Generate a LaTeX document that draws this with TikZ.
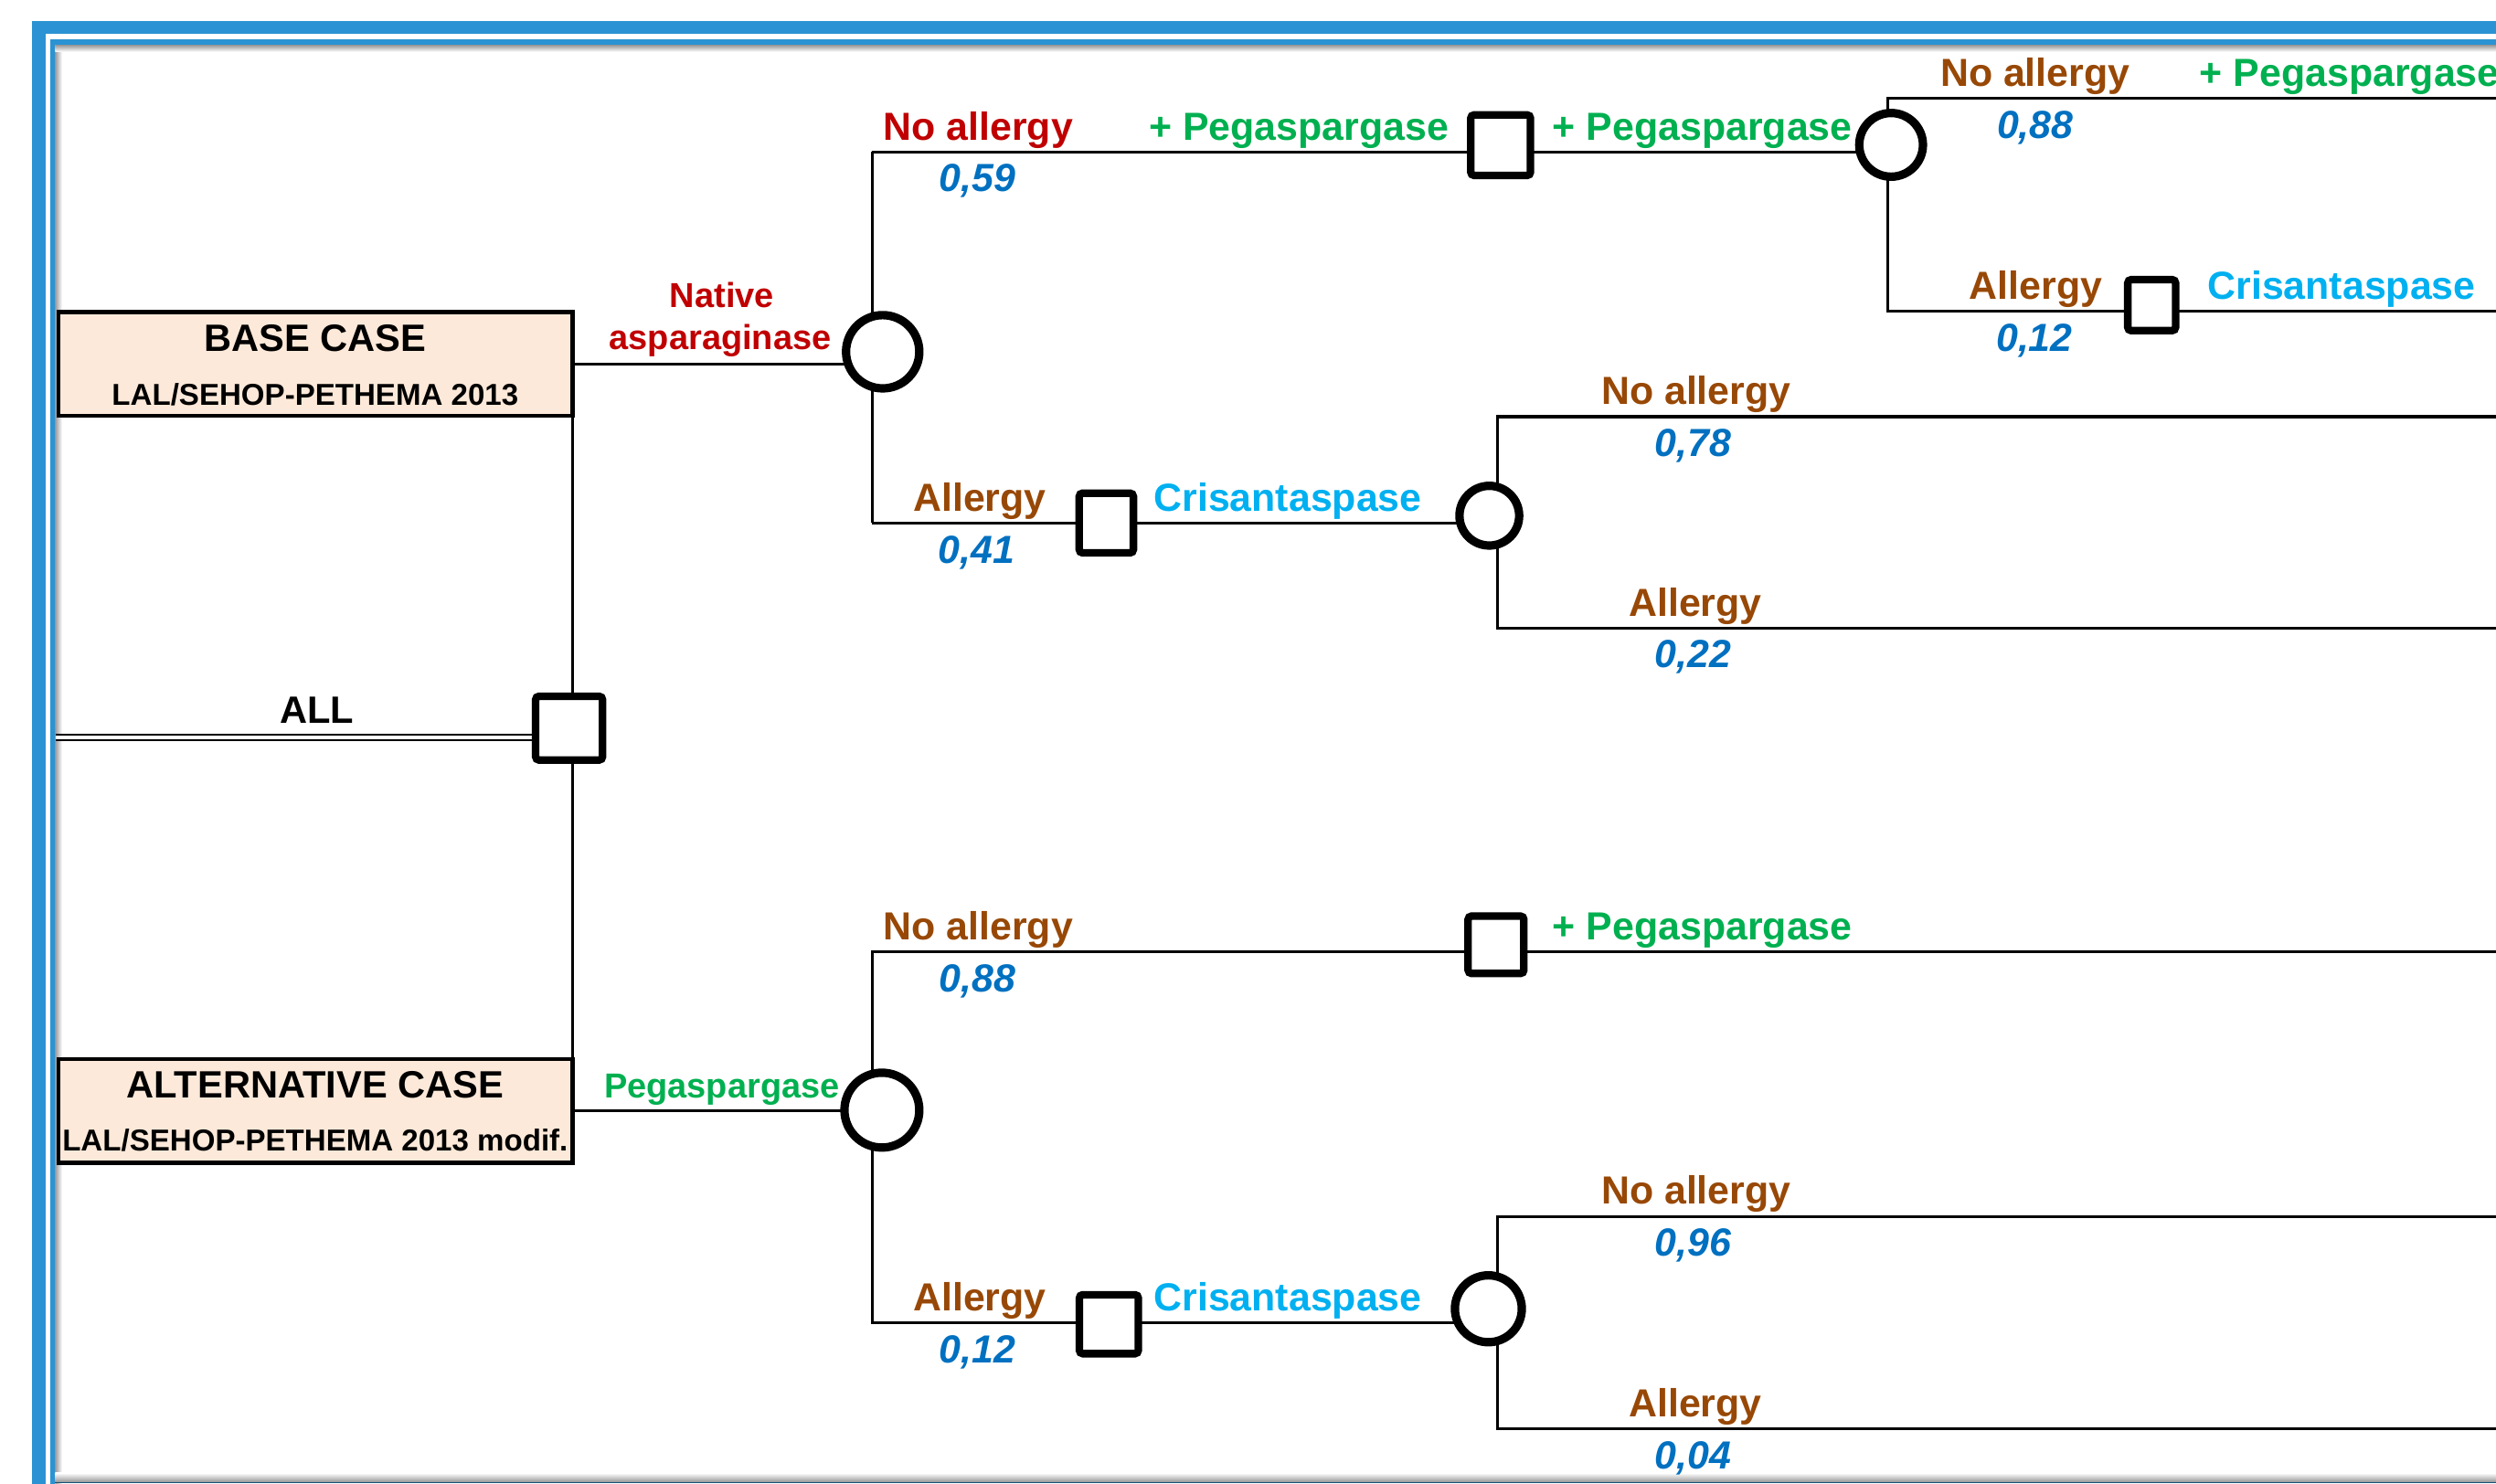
\documentclass[tikz,border=0pt]{standalone}
\usepackage{fontspec}
\setmainfont{Liberation Sans}
\definecolor{framebl}{HTML}{2B93D3}
\definecolor{lblred}{HTML}{C00000}
\definecolor{lblbrown}{HTML}{984806}
\definecolor{lblgreen}{HTML}{00B050}
\definecolor{lblcyan}{HTML}{00B0F0}
\definecolor{probblue}{HTML}{0070C0}
\definecolor{casefill}{HTML}{FDE9D9}
\pgfdeclarelayer{frame}
\pgfdeclarelayer{links}
\pgfsetlayers{frame,links,main}

\begin{document}
\begin{tikzpicture}[x=0.01cm, y=-0.01cm,
  txt/.style={anchor=base, inner sep=0pt, outer sep=0pt,
    font=\fontsize{7}{8.4}\selectfont\bfseries},
  redtxt/.style={txt, text=lblred},
  browntxt/.style={txt, text=lblbrown},
  greentxt/.style={txt, text=lblgreen},
  cyantxt/.style={txt, text=lblcyan},
  smalltxt/.style={font=\fontsize{6.2}{7.4}\selectfont\bfseries},
  prob/.style={txt, text=probblue, font=\fontsize{7}{8.4}\selectfont\bfseries\itshape},
  casetitle/.style={txt, font=\fontsize{6.8}{8}\selectfont\bfseries},
  casesub/.style={txt, font=\fontsize{5.4}{6.5}\selectfont\bfseries},
  casebox/.style={draw, line width=0.7pt, fill=casefill, rectangle,
    inner sep=0pt, outer sep=0pt, minimum width=3.229cm, minimum height=0.652cm},
  decision/.style={draw, line width=1.35pt, fill=white, rectangle,
    rounded corners=0.6pt, inner sep=0pt},
  chance/.style={draw, line width=1.5pt, fill=white, circle, inner sep=0pt},
  link/.style={line width=0.5pt, black}]

\useasboundingbox (0,0) rectangle (1568,932);

% ---------- double blue frame with inset shadow ----------
\begin{pgfonlayer}{frame}
  \clip (0,0) rectangle (1568,932);
  \fill[white] (0,0) rectangle (1568,932);
  \fill[framebl] (20,13) rectangle (1700,1000);
  \fill[white] (28.7,21.4) rectangle (1700,1000);
  \fill[framebl] (31.3,24.5) rectangle (1700,1000);
  \fill[white] (34.6,28.3) rectangle (1700,1000);
  \shade[left color=black!40, right color=white] (34.6,28.3) rectangle (39,932);
  \shade[top color=black!40, bottom color=white] (34.6,28.3) rectangle (1700,32.5);
  \shade[top color=white, bottom color=black!40] (34.6,925.5) rectangle (1700,931);
  \fill[black!45!framebl] (34.6,931) rectangle (1700,932);
\end{pgfonlayer}

% ---------- strategy boxes ----------
\node[casebox] (b1) at (198.1,228.65) {};
\node[casebox] (b2) at (198.1,698) {};
\node[casetitle] (t1) at (198,221) {BASE CASE};
\node[casesub] (t2) at (198,254.6) {LAL/SEHOP-PETHEMA 2013};
\node[casetitle] (t3) at (198,690) {ALTERNATIVE CASE};
\node[casesub] (t4) at (198,723) {LAL/SEHOP-PETHEMA 2013 modif.};

% ---------- decision (square) and chance (circle) nodes ----------
\node[decision, minimum width=0.42cm, minimum height=0.40cm] (dc1) at (357.5,457.5) {};
\node[chance, minimum size=0.46cm] (ch1) at (554.5,221) {};
\node[decision, minimum width=0.375cm, minimum height=0.38cm] (dc2) at (942.7,91.2) {};
\node[chance, minimum size=0.40cm] (ch2) at (1188,91) {};
\node[decision, minimum width=0.34cm, minimum height=0.375cm] (dc3) at (695,328.6) {};
\node[chance, minimum size=0.375cm] (ch3) at (935.6,324) {};
\node[decision, minimum width=0.30cm, minimum height=0.32cm] (dc4) at (1351.7,191.7) {};
\node[chance, minimum size=0.47cm] (ch4) at (554,697.5) {};
\node[decision, minimum width=0.35cm, minimum height=0.36cm] (dc5) at (939.8,593.6) {};
\node[decision, minimum width=0.37cm, minimum height=0.37cm] (dc6) at (696.6,832) {};
\node[chance, minimum size=0.42cm] (ch5) at (935,822.3) {};

% ---------- branch corners ----------
\coordinate (rim) at (1600,0);
\coordinate (allL) at (35,463.4);
\coordinate (k1t) at (548,95.5);
\coordinate (k1b) at (548,328.5);
\coordinate (k2t) at (1186,61.8);
\coordinate (k2b) at (1186,195.6);
\coordinate (k3t) at (941,261.8);
\coordinate (k3b) at (941,394.6);
\coordinate (k4t) at (548,598);
\coordinate (k4b) at (548,831.3);
\coordinate (k5t) at (940.6,764.2);
\coordinate (k5b) at (940.6,897.8);

% ---------- connectors ----------
\begin{pgfonlayer}{links}
  \clip (0,0) rectangle (1568,932);
  \draw[line width=0.38pt, double, double distance=0.55pt] (allL) -- (allL -| dc1);
  \draw[link] (b1.south east) -- (b2.north east);
  \draw[link] (b1.east) -- (b1.east -| ch1);
  \draw[link] (k1t) -- (k1b);
  \draw[link] (k1t) -- (k1t -| ch2);
  \draw[link] (k1b) -- (k1b -| ch3);
  \draw[link] (k2t -| rim) -- (k2t) -- (k2b) -- (k2b -| rim);
  \draw[link] (k3t -| rim) -- (k3t) -- (k3b) -- (k3b -| rim);
  \draw[link] (b2.east) -- (b2.east -| ch4);
  \draw[link] (k4t -| rim) -- (k4t) -- (k4b) -- (k4b -| ch5);
  \draw[link] (k5t -| rim) -- (k5t) -- (k5b) -- (k5b -| rim);
\end{pgfonlayer}

% ---------- branch labels ----------
\begin{scope}
\clip (0,0) rectangle (1568,932);
\node[txt, font=\fontsize{6.8}{8}\selectfont\bfseries] (t5) at (199,454.2) {ALL};

\node[redtxt, smalltxt] (t6) at (453.5,193.1) {Native};
\node[redtxt, smalltxt] (t7) at (452.5,219.5) {asparaginase};
\node[redtxt] (t8) at (614.5,88) {No allergy};
\node[prob] (t9) at (614,120.5) {0,59};
\node[greentxt] (t10) at (816,88) {+ Pegaspargase};
\node[greentxt] (t11) at (1069.5,88) {+ Pegaspargase};
\node[browntxt] (t12) at (1278.5,54.3) {No allergy};
\node[prob] (t13) at (1278.5,86.8) {0,88};
\node[greentxt] (t14) at (1476,54.3) {+ Pegaspargase};
\node[browntxt] (t15) at (1279,188.1) {Allergy};
\node[prob] (t16) at (1278,220.6) {0,12};
\node[cyantxt] (t17) at (1471,188.1) {Crisantaspase};
\node[browntxt] (t18) at (615.5,321) {Allergy};
\node[prob] (t19) at (613.5,354) {0,41};
\node[cyantxt] (t20) at (809,321) {Crisantaspase};
\node[browntxt] (t21) at (1065.5,254.3) {No allergy};
\node[prob] (t22) at (1063.5,286.8) {0,78};
\node[browntxt] (t23) at (1065,387.1) {Allergy};
\node[prob] (t24) at (1063.5,419.6) {0,22};

\node[greentxt, smalltxt] (t25) at (453.5,689.6) {Pegaspargase};
\node[browntxt] (t26) at (614.5,590.5) {No allergy};
\node[prob] (t27) at (614,623) {0,88};
\node[greentxt] (t28) at (1069.5,590.5) {+ Pegaspargase};
\node[browntxt] (t29) at (615.5,823.8) {Allergy};
\node[prob] (t30) at (614,856.3) {0,12};
\node[cyantxt] (t31) at (809,823.8) {Crisantaspase};
\node[browntxt] (t32) at (1065.5,756.7) {No allergy};
\node[prob] (t33) at (1063.5,789.2) {0,96};
\node[browntxt] (t34) at (1065,890.3) {Allergy};
\node[prob] (t35) at (1063.5,922.8) {0,04};
\end{scope}
\end{tikzpicture}
\end{document}
